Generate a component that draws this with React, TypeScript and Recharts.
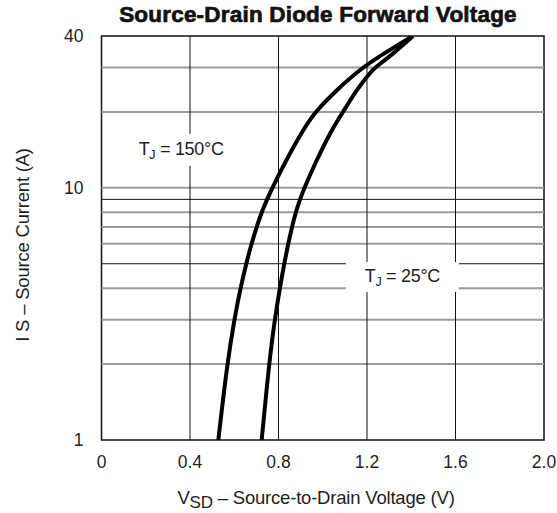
import React from 'react';
import { LineChart, Line, XAxis, YAxis, ReferenceLine, ReferenceDot, ReferenceArea } from 'recharts';

// tick labels and grid positions
const voltageTicks = [0, 0.4, 0.8, 1.2, 1.6, 2.0];
const voltageGrid = [0.4, 0.8, 1.2, 1.6];
const currentTicks = [1, 10, 40];
const lightCurrentGrid = [2, 3, 4, 6, 7, 8, 10, 20, 30];
const darkCurrentGrid = [5, 9];

// T_J = 150°C curve
const hotVoltage = [0.528, 0.568, 0.6, 0.628, 0.654, 0.678, 0.701, 0.724, 0.748, 0.772, 0.829, 0.911, 0.965, 1.064, 1.177, 1.304, 1.408];
const hotCurrent = [1, 2, 3, 4, 5, 6, 7, 8, 9, 10, 12.6, 17, 20, 24.5, 30, 35.3, 40];

// T_J = 25°C curve
const roomVoltage = [0.724, 0.757, 0.783, 0.806, 0.826, 0.844, 0.861, 0.878, 0.897, 0.917, 0.967, 1.04, 1.092, 1.153, 1.214, 1.236, 1.304, 1.408];
const roomCurrent = [1, 2, 3, 4, 5, 6, 7, 8, 9, 10, 12.6, 17, 20, 24.5, 28.6, 30, 33.2, 40];

const hotData = hotVoltage.map((v, i) => ({ v, i: hotCurrent[i] }));
const roomData = roomVoltage.map((v, i) => ({ v, i: roomCurrent[i] }));

const FONT = '"Liberation Sans", Arial, sans-serif';
const TEXT = '#1e1e1e';

// white label box with T_J text, drawn at a data point
const tempLabel = (temp: string, w: number, h: number) => (props: any) => {
  const { cx, cy } = props;
  return (
    <g>
      <rect x={cx - w / 2} y={cy - h / 2} width={w} height={h} fill='#fff' />
      <text x={cx} y={cy + 5} textAnchor='middle' fontSize={18} fontFamily={FONT} fill={TEXT} letterSpacing={-0.3}>
        T<tspan fontSize={12.5} dy={4}>J</tspan>
        <tspan dy={-4}>{` = ${temp}\u00b0C`}</tspan>
      </text>
    </g>
  );
};

const formatVoltage = (v: number) => (v === 0 ? '0' : v.toFixed(1));

export default function App() {
  return (
    <div style={{ position: 'absolute', left: 0, top: 0, width: 557, height: 513, background: '#fff', fontFamily: FONT }}>
      <div
        style={{
          position: 'absolute',
          left: 0,
          width: 636,
          top: 2,
          textAlign: 'center',
          fontSize: 22.5,
          fontWeight: 900,
          color: '#111',
          letterSpacing: 0.2,
          WebkitTextStroke: '0.7px #111',
        }}
      >
        Source-Drain Diode Forward Voltage
      </div>
      <LineChart width={557} height={513} data={hotData} margin={{ top: 36, right: 13, bottom: 13, left: 40 }}>
        <XAxis
          dataKey='v'
          type='number'
          domain={[0, 2]}
          ticks={voltageTicks}
          tickFormatter={formatVoltage}
          tickLine={false}
          axisLine={false}
          tickSize={0}
          tickMargin={16}
          height={60}
          tick={{ fontSize: 17.5, fill: TEXT, fontFamily: FONT }}
          interval={0}
        />
        <YAxis
          dataKey='i'
          type='number'
          scale='log'
          domain={[1, 40]}
          ticks={currentTicks}
          allowDataOverflow
          tickLine={false}
          axisLine={false}
          tickSize={0}
          tickMargin={18}
          width={61.5}
          tick={{ fontSize: 17.5, fill: TEXT, fontFamily: FONT }}
          interval={0}
        />
        {lightCurrentGrid.map((c) => (
          <ReferenceLine key={'l' + c} y={c} stroke='#9a9a9a' strokeWidth={2} />
        ))}
        {darkCurrentGrid.map((c) => (
          <ReferenceLine key={'d' + c} y={c} stroke='#111' strokeWidth={1} />
        ))}
        {voltageGrid.map((v) => (
          <ReferenceLine key={'v' + v} x={v} stroke='#111' strokeWidth={1} />
        ))}
        <ReferenceDot x={0.36} y={14.15} r={0} shape={tempLabel('150', 108, 32)} />
        <ReferenceDot x={1.36} y={4.43} r={0} shape={tempLabel('25', 113, 30)} />
        <ReferenceArea x1={0} x2={2} y1={1} y2={40} fill='none' stroke='#111' strokeWidth={1.5} />
        <Line data={hotData} dataKey='i' type='basis' stroke='#000' strokeWidth={4} dot={false} isAnimationActive={false} />
        <Line data={roomData} dataKey='i' type='basis' stroke='#000' strokeWidth={4} dot={false} isAnimationActive={false} />
      </LineChart>
      <div style={{ position: 'absolute', left: 0, width: 632, top: 487, textAlign: 'center', fontSize: 18.5, color: TEXT, letterSpacing: -0.2 }}>
        V<span style={{ fontSize: 17, verticalAlign: -4 }}>SD</span> {'\u2013'} Source-to-Drain Voltage (V)
      </div>
      <div
        style={{
          position: 'absolute',
          left: 23,
          top: 245,
          transform: 'translate(-50%, -50%) rotate(-90deg)',
          whiteSpace: 'nowrap',
          fontSize: 18.5,
          color: TEXT,
          letterSpacing: -0.2,
        }}
      >
        I S {'\u2013'} Source Current (A)
      </div>
    </div>
  );
}
